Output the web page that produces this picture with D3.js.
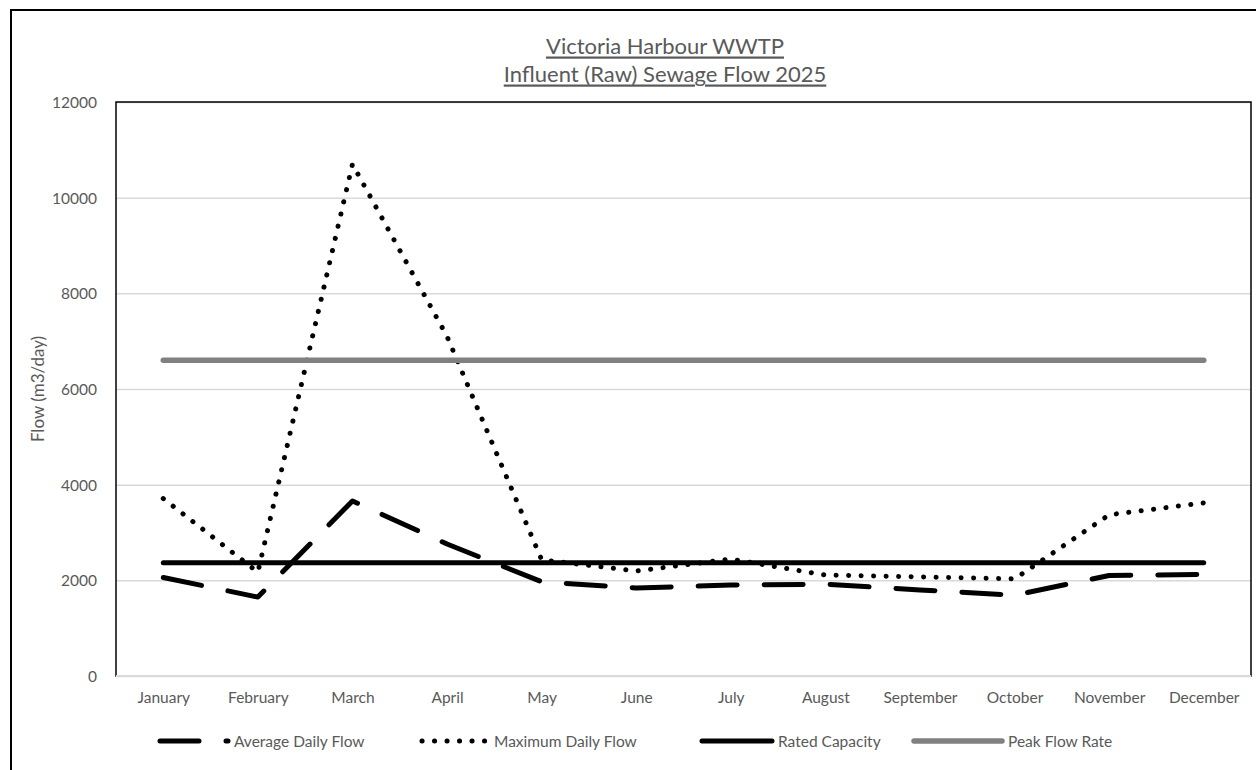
<!DOCTYPE html>
<html>
<head>
<meta charset="utf-8">
<script src="https://cdnjs.cloudflare.com/ajax/libs/d3/7.8.5/d3.min.js"></script>
<style>
  body { margin: 0; background: #fff; }
  svg text { font-family: Lato, "Open Sans", sans-serif; fill: #595959; }
</style>
</head>
<body>
<div id="chart"></div>
<script>
// chart data
var months = ["January", "February", "March", "April", "May", "June", "July",
              "August", "September", "October", "November", "December"];
var avgFlow = [2060, 1650, 3660, 2760, 1970, 1840, 1900, 1920, 1800, 1690, 2100, 2125];
var maxFlow = [3710, 2170, 10700, 7100, 2430, 2195, 2445, 2110, 2070, 2030, 3370, 3620];
var ratedCapacity = [2370, 2370, 2370, 2370, 2370, 2370, 2370, 2370, 2370, 2370, 2370, 2370];
var peakFlowRate = [6600, 6600, 6600, 6600, 6600, 6600, 6600, 6600, 6600, 6600, 6600, 6600];
var seriesNames = ["Average Daily Flow", "Maximum Daily Flow", "Rated Capacity", "Peak Flow Rate"];
var yTicks = [0, 2000, 4000, 6000, 8000, 10000, 12000];
var titleLines = ["Victoria Harbour WWTP", "Influent (Raw) Sewage Flow 2025"];
var yTitle = "Flow (m3/day)";

// set the dimensions and margins of the graph
var W = 1256, H = 770;
var margin = {top: 102, right: 5, bottom: 94, left: 116},
    width = W - margin.left - margin.right,
    height = H - margin.top - margin.bottom;

var svg = d3.select("#chart")
  .append("svg")
  .attr("width", W)
  .attr("height", H);

// outer chart frame (runs off the page to the right and bottom)
svg.append("rect")
  .attr("x", 11).attr("y", 10)
  .attr("width", 1400).attr("height", 900)
  .attr("fill", "none")
  .attr("stroke", "#000")
  .attr("stroke-width", 2);

// title
svg.append("g").selectAll("text")
  .data(titleLines)
  .enter()
  .append("text")
    .attr("x", 665)
    .attr("y", function(d, i) { return 45 + i * 28; })
    .attr("text-anchor", "middle")
    .attr("dominant-baseline", "central")
    .style("font-size", "22px")
    .style("text-decoration", "underline")
    .text(function(d) { return d; });

var g = svg.append("g")
  .attr("transform", "translate(" + margin.left + "," + margin.top + ")");

// scales
var x = d3.scalePoint()
  .domain(months)
  .range([0, width])
  .padding(0.5);

var y = d3.scaleLinear()
  .domain([0, 12000])
  .range([height, 0]);

// gridlines
g.append("g")
  .attr("class", "grid")
  .call(d3.axisLeft(y).tickValues(yTicks).tickSize(-width).tickFormat(""))
  .call(function(s) { s.select(".domain").remove(); })
  .selectAll("line")
    .attr("stroke", "#d9d9d9")
    .attr("stroke-width", 1.5);

// plot area border
g.append("rect")
  .attr("width", width)
  .attr("height", height)
  .attr("fill", "none")
  .attr("stroke", "#000")
  .attr("stroke-width", 1.5);

// category axis line
g.append("line")
  .attr("x1", 0).attr("x2", width)
  .attr("y1", height).attr("y2", height)
  .attr("stroke", "#d9d9d9")
  .attr("stroke-width", 2);

// Y axis labels
g.append("g")
  .call(d3.axisLeft(y).tickValues(yTicks).tickSize(0).tickPadding(19).tickFormat(d3.format("d")))
  .call(function(s) { s.select(".domain").remove(); })
  .selectAll("text")
    .style("font-size", "15.5px")
    .attr("dy", "0.35em");

// X axis labels
g.append("g")
  .attr("transform", "translate(0," + height + ")")
  .call(d3.axisBottom(x).tickSize(0).tickPadding(16))
  .call(function(s) { s.select(".domain").remove(); })
  .selectAll("text")
    .style("font-size", "15.5px");

// Y axis title
svg.append("text")
  .attr("transform", "translate(37,389) rotate(-90)")
  .attr("text-anchor", "middle")
  .attr("dominant-baseline", "central")
  .style("font-size", "17px")
  .text(yTitle);

// line styles
var styles = [
  {data: avgFlow, color: "#000", width: 5, dash: "39,27"},
  {data: maxFlow, color: "#000", width: 5, dash: "0.1,12.4"},
  {data: ratedCapacity, color: "#000", width: 5, dash: null},
  {data: peakFlowRate, color: "#808080", width: 5.5, dash: null}
];

var line = d3.line()
  .x(function(d, i) { return x(months[i]); })
  .y(function(d) { return y(d); });

styles.forEach(function(s) {
  g.append("path")
    .datum(s.data)
    .attr("d", line)
    .attr("fill", "none")
    .attr("stroke", s.color)
    .attr("stroke-width", s.width)
    .attr("stroke-linecap", "round")
    .attr("stroke-linejoin", "round")
    .attr("stroke-dasharray", s.dash);
});

// legend
var legendX = [160, 422, 702, 914];
var legendLen = [68, 66, 70, 88];
var legendY = 741;
var legend = svg.append("g");
seriesNames.forEach(function(name, i) {
  var s = styles[i];
  legend.append("line")
    .attr("x1", legendX[i])
    .attr("x2", legendX[i] + legendLen[i])
    .attr("y1", legendY).attr("y2", legendY)
    .attr("stroke", s.color)
    .attr("stroke-width", s.width)
    .attr("stroke-linecap", "round")
    .attr("stroke-dasharray", s.dash);
  legend.append("text")
    .attr("x", legendX[i] + legendLen[i] + 6)
    .attr("y", legendY)
    .attr("dominant-baseline", "central")
    .style("font-size", "15.5px")
    .text(name);
});
</script>
</body>
</html>
